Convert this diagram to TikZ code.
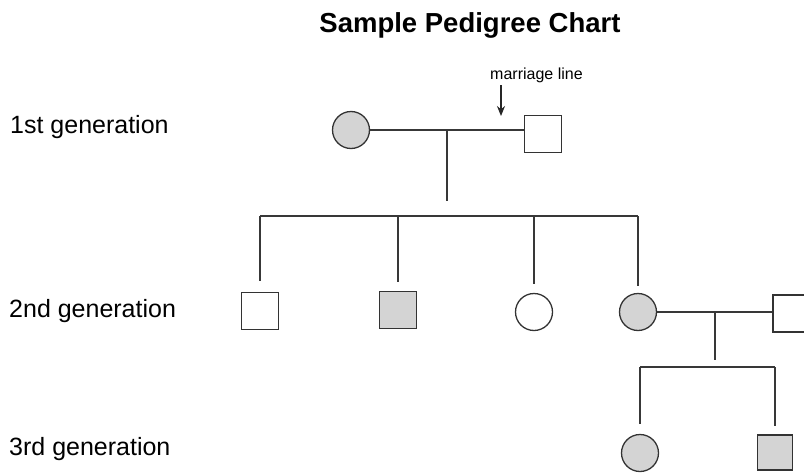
\documentclass[tikz,border=0pt]{standalone}
\usepackage{fontspec}
\setmainfont{Liberation Sans}
\usetikzlibrary{arrows.meta}
\begin{document}
\begin{tikzpicture}[x=1pt,y=-1pt,
  person/.style={draw=black!80, line width=1.3pt, inner sep=0pt},
  male/.style={person, rectangle, minimum size=37pt},
  female/.style={person, circle, minimum size=37pt},
  affected/.style={fill=black!17},
  link/.style={draw=black!78, line width=1.3pt},
  lbl/.style={anchor=base west, inner sep=0pt, font=\fontsize{25}{29}\selectfont},
  title/.style={anchor=base, inner sep=0pt, font=\fontsize{27.5}{32}\selectfont\bfseries},
  note/.style={anchor=base west, inner sep=0pt, font=\fontsize{16}{19}\selectfont}]
\useasboundingbox (0,0) rectangle (804,474);
\clip (0,0) rectangle (804,474);
\fill[white] (0,0) rectangle (804,474);

% title and labels
\node[title] (title) at (470,32) {Sample Pedigree Chart};
\node[lbl] (l1) at (10,133) {1st generation};
\node[lbl] (l2) at (9,317) {2nd generation};
\node[lbl] (l3) at (9,455) {3rd generation};
\node[note] (ml) at (490,79) {marriage line};

% 1st generation
\node[female,affected] (g1f) at (351,130) {};
\node[male] (g1m) at (543,134) {};
\draw[link] (g1f.east) -- (g1m.west |- g1f.east);
\coordinate (mt) at (501,85);
\coordinate (mb) at (501,116);
\draw[line width=1.2pt, black!85, -{Stealth[length=10pt,width=8pt]}] (mt) -- (mb);
\coordinate (d1t) at (447,130);
\coordinate (d1b) at (447,201);
\draw[link] (d1t) -- (d1b);

% 2nd generation
\node[male] (s1) at (260,311) {};
\node[male,affected] (s2) at (398,310) {};
\node[female] (c3) at (534,312) {};
\node[female,affected] (c4) at (638,312) {};
\node[male] (m2) at (791.5,313.5) {};
\coordinate (sl1) at (260,216);
\coordinate (sr1) at (638,216);
\draw[link] (sl1) -- (sr1);
\draw[link, shorten >=11pt] (sl1) -- (s1.north);
\draw[link, shorten >=9pt] (sl1 -| s2) -- (s2.north);
\draw[link, shorten >=9pt] (sl1 -| c3) -- (c3.north);
\draw[link, shorten >=7pt] (sr1) -- (c4.north);
\draw[link] (c4.east) -- (m2.west |- c4.east);
\coordinate (d2t) at (715,312);
\coordinate (d2b) at (715,360);
\draw[link] (d2t) -- (d2b);

% 3rd generation
\node[female,affected] (c5) at (640,453) {};
\node[male,affected,minimum size=35pt] (m5) at (775,452.5) {};
\coordinate (sl2) at (640,367);
\coordinate (sr2) at (775,367);
\draw[link] (sl2) -- (sr2);
\draw[link, shorten >=9.5pt] (sl2) -- (c5.north);
\draw[link, shorten >=8pt] (sr2) -- (m5.north);
\end{tikzpicture}
\end{document}
